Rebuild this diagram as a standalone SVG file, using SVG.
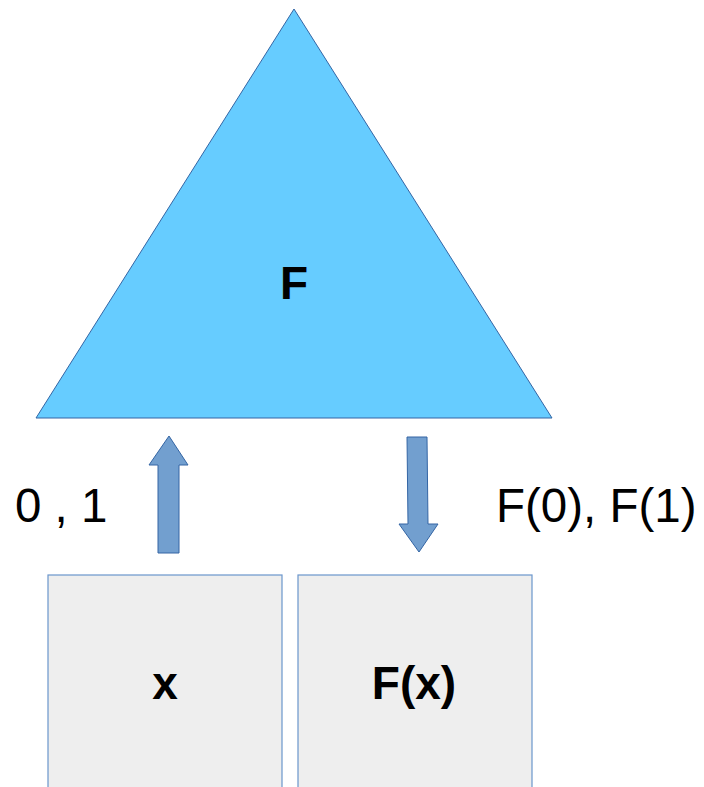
<svg xmlns="http://www.w3.org/2000/svg" width="704" height="787" viewBox="0 0 704 787">
<style>
.tri{fill:#66ccff;stroke:#3465a4;stroke-width:1}
.box{fill:#eeeeee;stroke:#6a96cc;stroke-width:1.2}
.arr{fill:#729fcf;stroke:#3465a4;stroke-width:1}
.b{font-family:"Liberation Sans",Arial,sans-serif;font-weight:bold;font-size:46px;fill:#000;text-anchor:middle}
.r{font-family:"Liberation Sans",Arial,sans-serif;font-size:47.5px;fill:#000}
</style>
<rect width="704" height="787" fill="#ffffff"/>
<g id="F">
<polygon class="tri" points="294,9 552,418 36,418"/>
<text class="b" x="294" y="299">F</text>
</g>
<g id="box-x">
<rect class="box" x="48" y="575" width="234" height="230"/>
<text class="b" x="165" y="699">x</text>
</g>
<g id="box-Fx">
<rect class="box" x="298" y="575" width="234" height="230"/>
<text class="b" x="414" y="699">F(x)</text>
</g>
<g id="connectors">
<polygon class="arr" points="158,553 179,553 179,465 188,465 169,436 149,465 158,465"/>
<polygon class="arr" points="407,437 427,437 428,524 438,524 419,552 399,524 408,524"/>
</g>
<g id="labels">
<text class="r" x="15" y="522">0 , 1</text>
<text class="r" x="496" y="522">F(0), F(1)</text>
</g>
</svg>
